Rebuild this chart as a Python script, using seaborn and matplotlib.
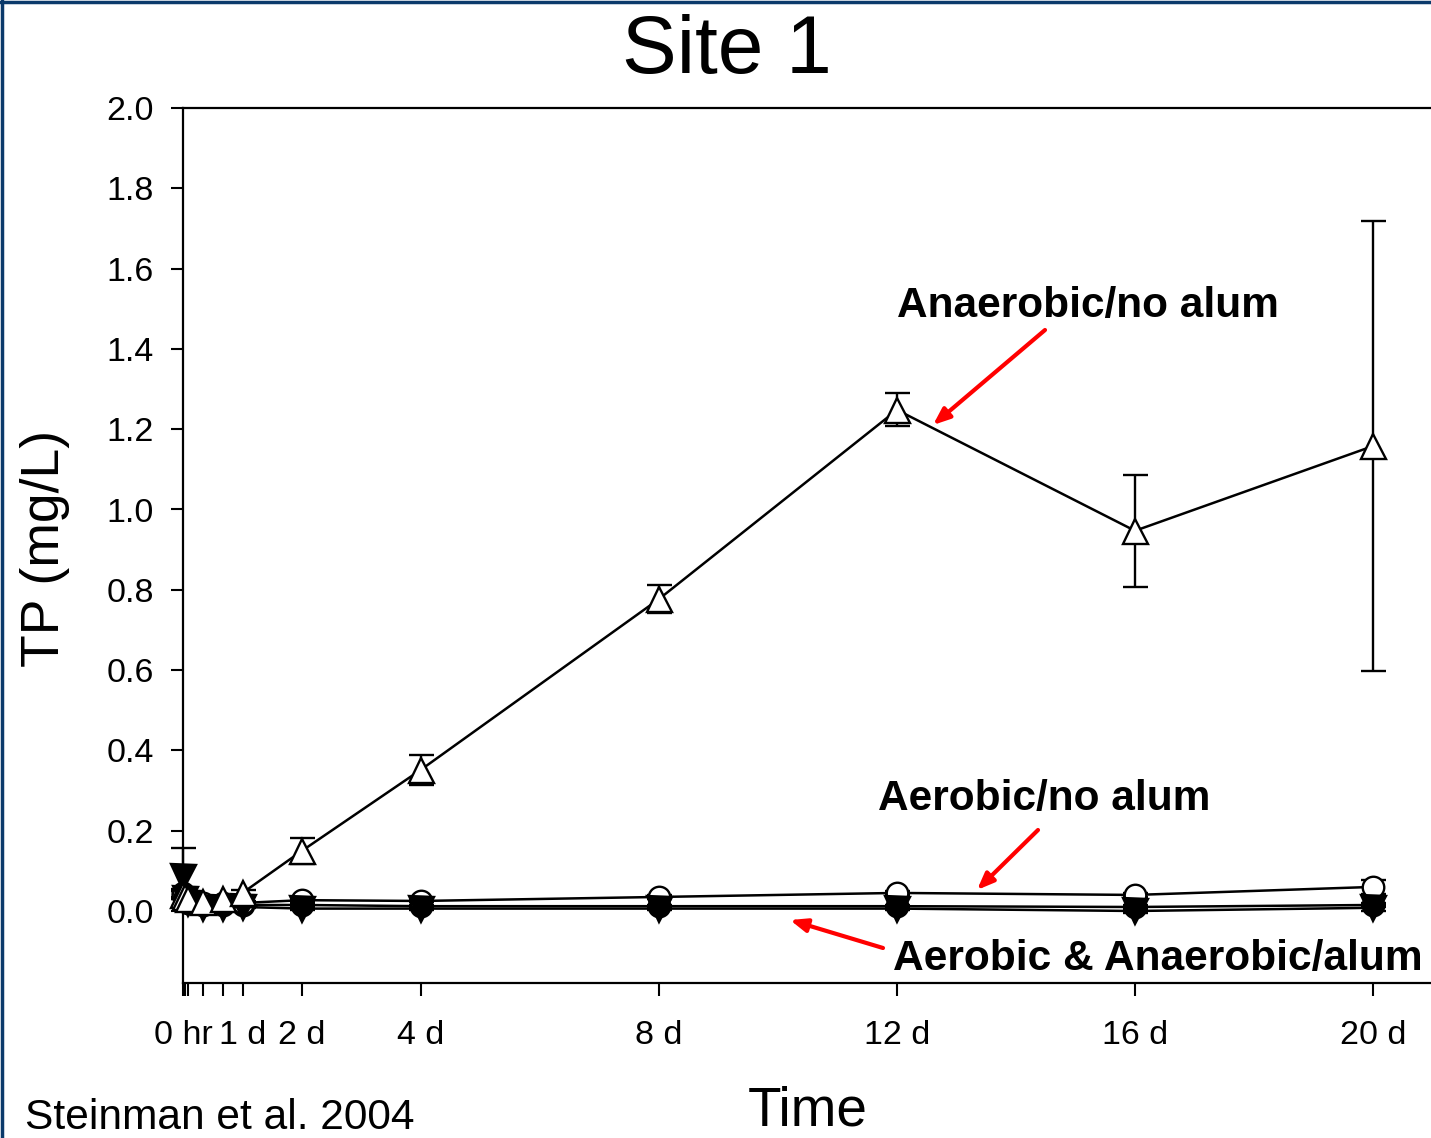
import numpy as np
import pandas as pd
import matplotlib
matplotlib.use("Agg")
import matplotlib.pyplot as plt
import seaborn as sns

sns.set_style("white")
plt.rcParams['font.family'] = ['Liberation Sans', 'DejaVu Sans']
plt.rcParams['text.color'] = 'black'
plt.rcParams['axes.labelcolor'] = 'black'
plt.rcParams['xtick.color'] = 'black'
plt.rcParams['ytick.color'] = 'black'

# time in days
days = [0, 1/24, 2/24, 8/24, 16/24, 1, 2, 4, 8, 12, 16, 20]

aer_alum = [0.045, 0.030, 0.020, 0.015, 0.015, 0.015, 0.015, 0.012, 0.012, 0.012, 0.010, 0.015]
aer_alum_err = [0.010, 0.005, 0.004, 0.003, 0.003, 0.003, 0.003, 0.003, 0.003, 0.003, 0.004, 0.006]

aer_noalum = [0.040, 0.035, 0.030, 0.020, 0.020, 0.020, 0.027, 0.025, 0.035, 0.045, 0.040, 0.060]
aer_noalum_err = [0.010, 0.005, 0.005, 0.004, 0.004, 0.004, 0.004, 0.003, 0.004, 0.004, 0.006, 0.018]

anaer_alum = [0.085, 0.030, 0.020, 0.008, 0.008, 0.010, 0.006, 0.006, 0.006, 0.006, 0.000, 0.008]
anaer_alum_err = [0.072, 0.006, 0.004, 0.003, 0.003, 0.003, 0.003, 0.003, 0.003, 0.003, 0.004, 0.008]

anaer_noalum = [0.040, 0.035, 0.030, 0.022, 0.030, 0.045, 0.150, 0.352, 0.777, 1.248, 0.947, 1.158]
anaer_noalum_err = [0.010, 0.006, 0.005, 0.004, 0.005, 0.008, 0.032, 0.037, 0.035, 0.041, 0.140, 0.560]

tick_pos = [0, 1/24, 2/24, 8/24, 16/24, 1, 2, 4, 8, 12, 16, 20]
tick_labels = ["0 hr", "", "", "", "", "1 d", "2 d", "4 d", "8 d", "12 d", "16 d", "20 d"]
y_ticks = [0.0, 0.2, 0.4, 0.6, 0.8, 1.0, 1.2, 1.4, 1.6, 1.8, 2.0]

W, H = 1431, 1138
fig = plt.figure(figsize=(W / 100, H / 100), dpi=100)
ax = fig.add_axes([183 / W, (H - 983) / H, (W - 183) / W, (983 - 108) / H])

series = [
    (aer_alum, aer_alum_err, 'o', 'black', 15.5),
    (aer_noalum, aer_noalum_err, 'o', 'white', 15.5),
    (anaer_alum, anaer_alum_err, 'v', 'black', 18),
    (anaer_noalum, anaer_noalum_err, '^', 'white', 18),
]

for vals, errs, mk, fc, ms in series:
    df = pd.DataFrame({'day': days, 'tp': vals})
    ax.errorbar(days, vals, yerr=errs, fmt='none', ecolor='black',
                elinewidth=1.7, capsize=9, capthick=1.7, clip_on=False, zorder=2)
    sns.lineplot(data=df, x='day', y='tp', ax=ax, color='black', linewidth=1.8,
                 marker=mk, markersize=ms, markerfacecolor=fc,
                 markeredgecolor='black', markeredgewidth=1.7,
                 clip_on=False, zorder=3, estimator=None, sort=False)

ax.set_xlim(0, (W - 183) / 59.5)
ax.set_ylim(-72 / 401.5, 2.0)
ax.set_xticks(tick_pos)
ax.set_xticklabels(tick_labels)
ax.set_yticks(y_ticks)
ax.set_yticklabels([f"{v:.1f}" for v in y_ticks])
ax.tick_params(axis='both', direction='out', length=9, width=1.5,
               labelsize=24.5, colors='black')
ax.tick_params(axis='x', bottom=True, pad=18)
ax.tick_params(axis='y', left=True, pad=12)
for s in ['left', 'bottom', 'top']:
    ax.spines[s].set_visible(True)
    ax.spines[s].set_color('black')
    ax.spines[s].set_linewidth(1.6)
ax.spines['right'].set_visible(False)

ax.set_xlabel("")
ax.set_ylabel("")
fig.text(808 / W, 1 - 1112 / H, "Time", fontsize=39.5, ha='center', va='center',
         color='black')
fig.text(45 / W, 1 - 548 / H, "TP (mg/L)", fontsize=38.5, ha='center', va='center',
         rotation=90, color='black')
fig.text(727 / W, 1 - 52 / H, "Site 1", fontsize=59, ha='center', va='center',
         color='black')
fig.text(25 / W, 1 - 1118 / H, "Steinman et al. 2004", fontsize=30.6, ha='left',
         va='center', color='black')

# annotations
fig.text(897 / W, 1 - 306 / H, "Anaerobic/no alum", fontsize=30.5, fontweight='bold',
         ha='left', va='center', color='black')
fig.text(878 / W, 1 - 799 / H, "Aerobic/no alum", fontsize=30.5, fontweight='bold',
         ha='left', va='center', color='black')
fig.text(893 / W, 1 - 959 / H, "Aerobic & Anaerobic/alum", fontsize=30.6,
         fontweight='bold', ha='left', va='center', color='black')

arrows = [((1045, 330), (933, 425)), ((1038, 830), (977, 890)), ((883, 948), (790, 920))]
for (x0, y0), (x1, y1) in arrows:
    ax.annotate("", xy=(x1 / W, 1 - y1 / H), xycoords='figure fraction',
                xytext=(x0 / W, 1 - y0 / H), textcoords='figure fraction',
                arrowprops=dict(arrowstyle='-|>,head_length=1.0,head_width=0.4',
                                color='#ff0000', lw=3, shrinkA=0, shrinkB=0))

# border on top and left
fig.add_artist(plt.Line2D([0, 1], [1 - 1.5 / H, 1 - 1.5 / H], color='#0b3a6b', lw=2.5,
                          transform=fig.transFigure))
fig.add_artist(plt.Line2D([1.5 / W, 1.5 / W], [0, 1], color='#0b3a6b', lw=2.5,
                          transform=fig.transFigure))

fig.savefig("out.png", dpi=100)
